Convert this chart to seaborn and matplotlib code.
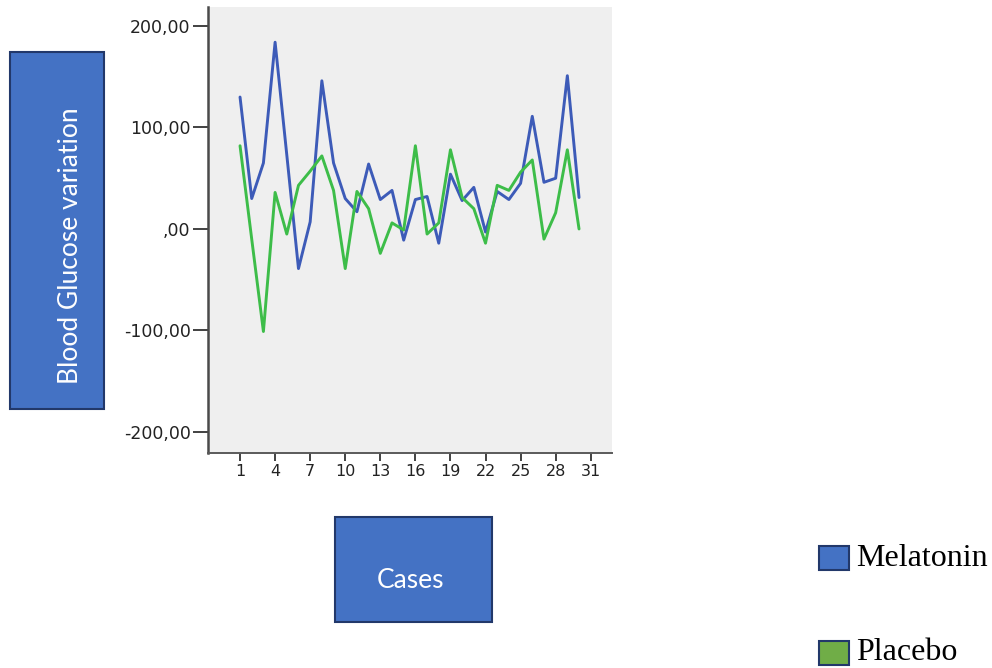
import numpy as np
import pandas as pd
import matplotlib
matplotlib.use("Agg")
import matplotlib.pyplot as plt
from matplotlib.patches import Rectangle
from matplotlib.ticker import FuncFormatter, FixedLocator
import seaborn as sns

# values
cases = list(range(1, 31))
melatonin = [130, 30, 65, 184, 73, -39, 7, 146, 65, 30,
             17, 64, 29, 38, -11, 29, 32, -14, 54, 28,
             41, -3, 37, 29, 45, 111, 46, 50, 151, 31]
placebo = [82, -10, -101, 36, -5, 43, 57, 72, 38, -39,
           37, 20, -24, 6, -1, 82, -5, 6, 78, 31,
           20, -14, 43, 38, 56, 68, -10, 16, 78, 0]
groups = ["Melatonin", "Placebo"]
line_colors = ["#3D5BB8", "#3DBD49"]
box_colors = ["#4472C4", "#70AD47"]
x_ticks = list(range(1, 32, 3))
y_ticks = [-200, -100, 0, 100, 200]

df = pd.DataFrame({
    "Case": cases * 2,
    "Value": melatonin + placebo,
    "Group": [groups[0]] * len(cases) + [groups[1]] * len(cases),
})

sns.set_style("white")
plt.rcParams["font.family"] = ["DejaVu Sans"]
fig = plt.figure(figsize=(9.92, 6.68), dpi=100)
W, H = 992, 668

def fx(px):
    return px / W

def fy(py):
    return 1 - py / H

ax = fig.add_axes([fx(208), fy(453), fx(612) - fx(208), fy(7) - fy(453)])
ax.set_facecolor("#EFEFEF")

sns.lineplot(data=df, x="Case", y="Value", hue="Group", palette=line_colors,
             linewidth=2.1, legend=False, ax=ax)

ax.set_xlim(-1.74, 32.82)
ax.set_ylim(-220.7, 218.7)
ax.xaxis.set_major_locator(FixedLocator(x_ticks))
ax.yaxis.set_major_locator(FixedLocator(y_ticks))


def comma_fmt(v, pos):
    s = f"{v:.2f}".replace(".", ",")
    if s.startswith("0,"):
        s = s[1:]
    return s


ax.yaxis.set_major_formatter(FuncFormatter(comma_fmt))
ax.set_xlabel("")
ax.set_ylabel("")

for side in ["top", "right"]:
    ax.spines[side].set_visible(False)
ax.spines["left"].set_color("#4a4a4a")
ax.spines["left"].set_linewidth(1.8)
ax.spines["bottom"].set_color("#5a5a5a")
ax.spines["bottom"].set_linewidth(1.4)

ax.tick_params(axis="y", direction="out", length=11, width=1.3, color="#333333",
               pad=1.5, labelsize=12.5, labelcolor="#222222", left=True)
ax.tick_params(axis="x", direction="out", length=6, width=1.3, color="#333333",
               pad=2, labelsize=11.5, labelcolor="#222222", bottom=True)

# y label box
fig.add_artist(Rectangle((fx(10), fy(409)), fx(104) - fx(10), fy(52) - fy(409),
                         transform=fig.transFigure, facecolor="#4472C4",
                         edgecolor="#22386A", linewidth=1.5))
fig.text(fx(71), fy(246), "Blood Glucose variation", rotation=90, color="white",
         fontsize=19, family="Lato", ha="center", va="center")

# x label box
fig.add_artist(Rectangle((fx(335), fy(622)), fx(492) - fx(335), fy(517) - fy(622),
                         transform=fig.transFigure, facecolor="#4472C4",
                         edgecolor="#22386A", linewidth=1.5))
fig.text(fx(410), fy(580), "Cases", color="white", fontsize=19, family="Lato",
         ha="center", va="center")

# legend
legend_rows = [558, 653]
for name, col, yc in zip(groups, box_colors, legend_rows):
    fig.add_artist(Rectangle((fx(819), fy(yc + 12)), fx(849) - fx(819), fy(yc - 12) - fy(yc + 12),
                             transform=fig.transFigure, facecolor=col,
                             edgecolor="#22386A", linewidth=1.5))
    fig.text(fx(856), fy(yc), name, color="black", fontsize=23,
             family="Liberation Serif", ha="left", va="center")

fig.savefig("out.png", dpi=100)
